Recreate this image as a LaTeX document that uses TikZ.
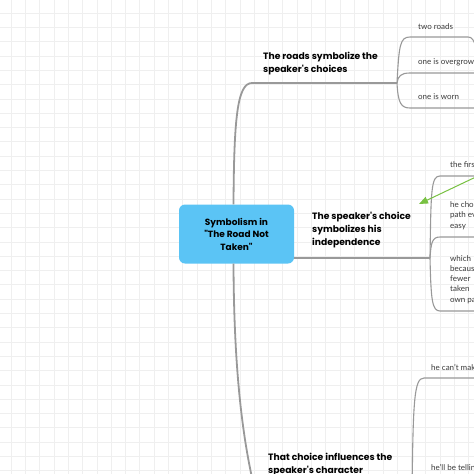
\documentclass[tikz,border=0pt]{standalone}
\usepackage{fontspec}
\setmainfont{Lato}
\newfontfamily\headfont{Poppins}
\usetikzlibrary{arrows.meta,positioning,calc}
\definecolor{rootblue}{HTML}{5BC4F5}
\definecolor{linegray}{HTML}{999999}
\definecolor{gridgray}{HTML}{EFEFEF}
\definecolor{linkgreen}{HTML}{78C142}
\definecolor{leafgray}{HTML}{3A3A3A}

\begin{document}
\begin{tikzpicture}[x=1pt,y=-1pt,
    every node/.style={inner sep=0pt},
    root/.style={fill=rootblue,rounded corners=6pt,minimum width=115pt,minimum height=59pt,
                 align=center,font=\headfont\bfseries\fontsize{9}{12.5}\selectfont},
    topic/.style={anchor=west,align=left,font=\headfont\bfseries\fontsize{9.2}{13}\selectfont},
    leaf/.style={anchor=west,align=left,text=leafgray,font=\fontsize{8}{10.2}\selectfont},
    trunk/.style={draw=linegray,line width=1.8pt},
    branch/.style={draw=linegray,line width=1.1pt},
    link/.style={-{Triangle[length=9pt,width=7pt]},draw=linkgreen,line width=1pt}
  ]
    \useasboundingbox (0,0) rectangle (474,474);
    \clip (0,0) rectangle (474,474);
    \fill[white] (0,0) rectangle (474,474);
    \foreach \k in {0,...,32} {
      \draw[gridgray,line width=0.6pt] ({11+14.3*\k},0) -- ({11+14.3*\k},474);
      \draw[gridgray,line width=0.6pt] (0,{13+14.3*\k}) -- (474,{13+14.3*\k});
    }

    \node[root] (root) at (236.5,234) {Symbolism in\\"The Road Not\\Taken"};

    \coordinate (b1) at (397,83);
    \coordinate (b2) at (430,258);
    \coordinate (b3) at (412,500);

    \node[topic] (t1) at (263,63.5) {The roads symbolize the\\speaker's choices};
    \node[topic] (t2) at (312,230) {The speaker's choice\\symbolizes his\\independence};
    \node[topic] (t3) at (268,464.5) {That choice influences the\\speaker's character};

    \draw[trunk] ([xshift=-3pt]root.north) .. controls (234,120) and (237,83) .. (252,83);
    \draw[branch] (252,83) -- (b1);
    \draw[trunk] ([xshift=-3pt]root.south) .. controls (234,390) and (246,460) .. (260,510);
    \draw[branch] (root.east |- b2) -- (b2);

    \node[leaf] (l11) at (418,27) {two roads};
    \node[leaf] (l12) at (418,62) {one is overgrown};
    \node[leaf] (l13) at (418,97) {one is worn};
    \draw[branch] (b1) .. controls (399,45) and (400,37) .. (410,37) -- (468,37)
      .. controls (472,37) and (474,40) .. (476,48);
    \draw[branch] (b1) .. controls (398,76) and (401,73) .. (410,73) -- (480,73);
    \draw[branch] (b1) .. controls (398,103) and (401,108) .. (410,108) -- (480,108);

    \node[leaf] (l21) at (450,165) {the first};
    \node[leaf] (l22) at (450,215.7) {he chose\\path even\\easy};
    \node[leaf] (l23) at (450,279.5) {which\\because\\fewer\\taken\\own path};
    \draw[branch] (b2) .. controls (431,190) and (431,176) .. (440,176) -- (480,176);
    \draw[branch] (b2) .. controls (431,243) and (432,237) .. (440,237) -- (480,237);
    \draw[branch] (b2) .. controls (431,300) and (432,311) .. (440,311) -- (480,311);

    \node[leaf] (l31) at (431,367) {he can't make};
    \node[leaf] (l32) at (431,468) {he'll be telling};
    \draw[branch] (b3) .. controls (413,400) and (414,378) .. (424,378) -- (480,378);

    \coordinate (lk) at (480,175);
    \coordinate (lt) at (419,204);
    \draw[link] (lk) -- (lt);
  \end{tikzpicture}
\end{document}
